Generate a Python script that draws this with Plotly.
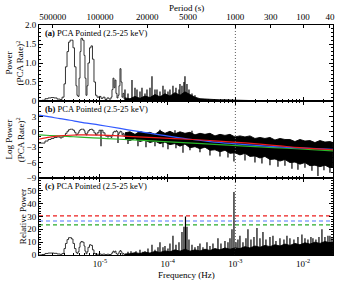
import math
import plotly.graph_objects as go

# ---------------- data ----------------
# low-frequency part, drawn as step curves
low_freq = [1.26e-6, 1.39e-6, 1.54e-6, 1.71e-6, 1.89e-6, 2.09e-6, 2.32e-6, 2.57e-6, 2.75e-6, 2.94e-6,
            3.09e-6, 3.26e-6, 3.43e-6, 3.61e-6, 3.79e-6, 3.99e-6, 4.20e-6, 4.42e-6, 4.57e-6, 4.73e-6,
            4.90e-6, 5.07e-6, 5.24e-6, 5.52e-6, 5.81e-6, 6.00e-6, 6.21e-6, 6.43e-6, 6.65e-6, 7.00e-6,
            7.36e-6, 7.74e-6, 8.15e-6, 8.59e-6, 9.04e-6, 9.66e-6, 1.035e-5, 1.107e-5, 1.186e-5, 1.269e-5,
            1.358e-5, 1.454e-5, 1.504e-5, 1.556e-5, 1.610e-5, 1.666e-5, 1.723e-5, 1.783e-5, 1.845e-5, 1.908e-5,
            1.974e-5, 2.043e-5, 2.113e-5, 2.186e-5, 2.262e-5, 2.340e-5]
power_a_low = [0.0, 0.02, 0.06, 0.08, 0.09, 0.08, 0.05, 0.04, 0.1, 0.45,
               0.9, 1.3, 1.55, 1.6, 1.6, 1.4, 0.9, 0.4, 0.15, 0.12,
               0.6, 1.3, 1.65, 1.6, 1.2, 0.6, 0.15, 0.4, 1.0, 1.4,
               1.45, 1.1, 0.5, 0.15, 0.1, 0.12, 0.07, 0.1, 0.04, 0.08,
               0.05, 0.1, 0.3, 0.6, 0.35, 0.55, 0.2, 0.08, 0.15, 0.4,
               0.85, 0.5, 0.1, 0.2, 0.06, 0.1]
logpow_b_low = [-2.2, -2.2, -1.8, -1.5, -1.3, -1.1, -1.0, -1.2, -1.0, -0.7,
                -0.3, 0.1, 0.4, 0.5, 0.5, 0.3, -0.1, -0.6, -0.5, -0.2,
                0.2, 0.4, 0.5, 0.5, 0.2, -0.3, -0.6, -0.2, 0.2, 0.45,
                0.5, 0.3, -0.2, -0.6, -0.2, 0.3, 0.3, -0.2, -0.8, -1.0,
                -0.8, -1.1, -0.6, -0.1, 0.1, 0.0, 0.2, 0.0, -0.5, -0.2,
                0.1, 0.0, -0.6, -0.3, -0.9, -0.4]
relpow_c_low = [0.0, 0.4, 1.2, 1.5, 1.5, 1.3, 0.8, 0.5, 1.2, 5,
                9, 12, 13.5, 13.5, 12.5, 9, 5, 2, 1.2, 2.5,
                6, 9.5, 10.5, 10, 7, 3, 1, 2.5, 6, 8,
                7.5, 4, 1.2, 0.5, 0.6, 0.8, 0.5, 0.7, 0.3, 0.6,
                0.4, 0.8, 1.8, 3.0, 2.2, 3.0, 1.2, 0.5, 0.9, 2.5,
                3.5, 2.5, 0.6, 1.2, 0.4, 0.8]

# dense high-frequency part: envelope of the noise band
band_freq = [2.340e-5, 2.774e-5, 3.289e-5, 3.898e-5, 4.620e-5, 5.478e-5, 6.493e-5, 7.698e-5, 9.123e-5, 1.081e-4,
             1.282e-4, 1.519e-4, 1.801e-4, 2.135e-4, 2.531e-4, 3.000e-4, 3.556e-4, 4.215e-4, 4.996e-4, 5.923e-4,
             7.022e-4, 8.324e-4, 9.865e-4, 1.169e-3, 1.387e-3, 1.643e-3, 1.948e-3, 2.309e-3, 2.736e-3, 3.244e-3,
             3.845e-3, 4.559e-3, 5.403e-3, 6.405e-3, 7.592e-3, 9.000e-3, 1.067e-2, 1.265e-2, 1.499e-2, 1.777e-2,
             2.106e-2, 2.497e-2, 2.765e-2]
power_a_band = [0.08, 0.06, 0.12, 0.07, 0.13, 0.09, 0.17, 0.11, 0.19, 0.13,
                0.22, 0.15, 0.24, 0.16, 0.10, 0.06, 0.05, 0.04, 0.035, 0.03,
                0.03, 0.025, 0.015, 0.01, 0.005, 0.005, 0.005, 0.005, 0.005, 0.005,
                0.005, 0.005, 0.005, 0.005, 0.005, 0.005, 0.005, 0.005, 0.005, 0.005,
                0.005, 0.005, 0.005]
logpow_b_band_hi = [-0.2, 0.0, -0.5, 0.1, -0.3, -0.1, -0.5, 0.2, -0.3, 0.1,
                    -0.4, 0.0, -0.3, -0.1, -0.6, -0.3, -0.5, -0.3, -0.8, -0.5,
                    -0.7, -0.5, -1.0, -0.8, -1.0, -0.8, -1.3, -1.1, -1.3, -1.1,
                    -1.6, -1.3, -1.5, -1.5, -1.9, -1.5, -1.8, -1.7, -2.1, -1.7,
                    -2.0, -1.9, -2.1]
logpow_b_band_lo = [-1.4, -1.7, -1.3, -1.9, -1.6, -2.1, -1.8, -2.3, -2.0, -2.5,
                    -2.3, -2.8, -2.4, -3.1, -2.9, -3.3, -3.0, -3.6, -3.5, -3.9,
                    -3.6, -4.2, -4.1, -4.5, -4.2, -4.8, -4.7, -5.1, -4.8, -5.4,
                    -5.3, -5.7, -5.4, -6.0, -5.9, -6.3, -6.0, -6.6, -6.5, -6.8,
                    -6.5, -7.0, -6.8]
relpow_c_band = [0.8, 1.0, 1.8, 1.2, 2.2, 1.5, 2.8, 2.0, 3.2, 2.5,
                 4.0, 3.0, 4.5, 3.0, 4.0, 3.2, 4.5, 3.5, 5.0, 4.0,
                 5.5, 4.5, 5.5, 5.0, 6.5, 5.5, 7.0, 6.0, 7.5, 6.5,
                 8.0, 7.0, 8.5, 7.5, 9.0, 8.0, 9.5, 8.5, 10.0, 9.0,
                 10.5, 9.5, 10.0]

# individual spikes sticking out of the band
a_spike_freq = [2.340e-5, 2.592e-5, 2.970e-5, 3.289e-5, 3.520e-5, 3.898e-5, 4.173e-5, 4.620e-5, 4.946e-5, 5.478e-5,
                5.864e-5, 6.493e-5, 6.950e-5, 7.698e-5, 8.523e-5, 9.123e-5, 1.010e-4, 1.081e-4, 1.197e-4, 1.326e-4,
                1.469e-4, 1.519e-4, 1.627e-4, 1.741e-4, 1.801e-4, 1.928e-4, 2.064e-4, 2.286e-4, 2.531e-4]
a_spike_top = [0.3, 0.2, 0.55, 0.35, 0.3, 0.25, 0.35, 0.2, 0.3, 0.35,
               0.65, 0.3, 0.3, 0.25, 0.4, 0.3, 0.25, 0.3, 0.4, 0.35,
               0.3, 0.45, 0.4, 0.5, 0.65, 0.45, 0.3, 0.2, 0.15]

b_spike_freq = [1.035e-5, 1.845e-5, 2.592e-5, 3.641e-5, 4.780e-5, 6.493e-5, 8.523e-5, 1.010e-4, 1.326e-4, 1.683e-4,
                2.135e-4, 3.000e-4, 4.215e-4, 5.923e-4, 7.776e-4, 9.535e-4, 1.387e-3, 1.948e-3, 2.471e-3, 3.244e-3,
                4.259e-3, 5.403e-3, 6.855e-3, 8.407e-3, 1.067e-2, 1.353e-2, 1.660e-2, 2.036e-2, 2.497e-2,
                7.698e-5, 1.282e-4, 2.286e-4]
b_spike_top = [0.3, -0.5, -1.0, -1.0, -1.2, -1.2, -1.5, -1.5, -1.5, -2.0,
               -2.0, -2.5, -2.5, -3.0, -3.0, -3.0, -3.5, -4.0, -4.0, -4.5,
               -4.5, -4.5, -5.0, -5.0, -5.0, -5.5, -5.5, -5.5, -6.0,
               0.4, 0.3, 0.2]
b_spike_bot = [-2.8, -2.2, -2.4, -2.8, -3.0, -2.8, -3.0, -3.4, -3.2, -4.1,
               -3.6, -4.0, -4.6, -4.8, -5.0, -5.8, -5.6, -6.0, -6.2, -6.5,
               -6.8, -6.6, -7.2, -7.4, -7.0, -7.6, -8.6, -7.5, -8.0,
               -0.5, -0.6, -0.8]

c_spike_freq = [2.592e-5, 2.870e-5, 3.073e-5, 3.402e-5, 3.898e-5, 4.318e-5, 4.620e-5, 5.117e-5, 5.864e-5, 6.493e-5,
                7.191e-5, 7.698e-5, 8.523e-5, 9.123e-5, 1.010e-4, 1.081e-4, 1.197e-4, 1.326e-4, 1.469e-4, 1.627e-4,
                1.741e-4, 1.832e-4, 1.928e-4, 2.064e-4, 2.286e-4, 2.531e-4, 2.803e-4, 3.000e-4, 3.322e-4, 3.806e-4,
                4.215e-4, 4.668e-4, 5.534e-4, 6.128e-4, 7.022e-4, 7.776e-4, 8.324e-4, 8.909e-4, 9.535e-4, 1.021e-3,
                1.092e-3, 1.169e-3, 1.295e-3, 1.434e-3, 1.535e-3, 1.700e-3, 1.883e-3, 2.085e-3, 2.309e-3, 2.557e-3,
                2.831e-3, 3.244e-3, 3.593e-3, 3.979e-3, 4.559e-3, 5.223e-3, 5.783e-3, 6.405e-3, 7.338e-3, 8.407e-3,
                9.63e-3, 1.067e-2, 1.181e-2, 1.308e-2, 1.400e-2, 1.550e-2, 1.718e-2, 1.902e-2, 2.106e-2, 2.333e-2,
                2.497e-2, 2.673e-2]
c_spike_top = [2.5, 3, 1.5, 3, 4, 2.5, 3, 5, 8, 4,
               6, 10, 6, 7, 5, 9, 15, 8, 10, 18,
               22, 30, 22, 12, 8, 6, 7, 9, 6, 10,
               7, 9, 13, 9, 11, 10, 13, 20, 49, 10,
               12, 15, 10, 13, 20, 12, 14, 21, 13, 18,
               12, 14, 15, 11, 13, 12, 15, 13, 12, 14,
               16, 13, 12, 14, 13, 12, 14, 20, 14, 15,
               15, 13]

# model curves of panel (b)
model_freq = [1.26e-6, 1.82e-6, 2.57e-6, 3.61e-6, 5.07e-6, 1.0e-5, 1.974e-5, 3.641e-5, 7.698e-5, 1.995e-4,
              4.215e-4, 9.216e-4, 2.309e-3, 4.559e-3, 9.0e-3, 2.765e-2]
model_blue = [3.25, 2.9, 2.55, 2.25, 1.9, 1.3, 0.65, 0.07, -0.6, -1.4,
              -1.9, -2.3, -2.7, -2.95, -3.15, -3.4]
model_red = [-1.45, -1.05, -0.8, -0.67, -0.62, -0.66, -0.8, -0.98, -1.18, -1.45,
             -1.7, -2.0, -2.4, -2.75, -3.1, -3.5]
model_green = [-0.6, -0.72, -0.82, -0.93, -1.03, -1.24, -1.45, -1.64, -1.87, -2.17,
               -2.40, -2.65, -2.93, -3.14, -3.35, -3.70]

# significance levels of panel (c)
sig_levels = [30.5, 26.5, 23.5]
sig_colors = ["rgb(235,30,30)", "rgb(80,120,255)", "rgb(40,170,40)"]

period_ticks = [500000, 100000, 20000, 5000, 1000, 300, 100, 40]
freq_ticks = [1e-5, 1e-4, 1e-3, 1e-2]
freq_ticktext = ["10<sup>-5</sup>", "10<sup>-4</sup>", "10<sup>-3</sup>", "10<sup>-2</sup>"]
marker_freq = 1e-3
f_min, f_max = 1.256e-6, 2.77e-2

# ---------------- figure ----------------
FONT = "Liberation Serif"
BLACK = "black"


def segs(freqs, lo, hi):
    xs, ys = [], []
    for f, l, h in zip(freqs, lo, hi):
        xs += [f, f, None]
        ys += [l, h, None]
    return xs, ys


fig = go.Figure()
line_w = 0.9
spike_w = 1.2

# panel a
fig.add_trace(go.Scatter(x=band_freq, y=power_a_band, mode="lines", fill="tozeroy",
                         fillcolor=BLACK, line=dict(color=BLACK, width=line_w), xaxis="x", yaxis="y"))
sx, sy = segs(a_spike_freq, [0] * len(a_spike_freq), a_spike_top)
fig.add_trace(go.Scatter(x=sx, y=sy, mode="lines", line=dict(color=BLACK, width=spike_w), xaxis="x", yaxis="y"))
fig.add_trace(go.Scatter(x=low_freq, y=power_a_low, mode="lines", line_shape="hv",
                         line=dict(color="rgb(30,30,30)", width=line_w), xaxis="x", yaxis="y"))

# panel b
fig.add_trace(go.Scatter(x=band_freq, y=logpow_b_band_lo, mode="lines",
                         line=dict(color=BLACK, width=line_w), xaxis="x2", yaxis="y2"))
fig.add_trace(go.Scatter(x=band_freq, y=logpow_b_band_hi, mode="lines", fill="tonexty",
                         fillcolor=BLACK, line=dict(color=BLACK, width=line_w), xaxis="x2", yaxis="y2"))
sx, sy = segs(b_spike_freq, b_spike_bot, b_spike_top)
fig.add_trace(go.Scatter(x=sx, y=sy, mode="lines", line=dict(color=BLACK, width=spike_w), xaxis="x2", yaxis="y2"))
fig.add_trace(go.Scatter(x=low_freq, y=logpow_b_low, mode="lines", line_shape="hv",
                         line=dict(color="rgb(30,30,30)", width=line_w), xaxis="x2", yaxis="y2"))
fig.add_trace(go.Scatter(x=model_freq, y=model_green, mode="lines", line_shape="spline",
                         line=dict(color="rgb(40,180,40)", width=1.2), xaxis="x2", yaxis="y2"))
fig.add_trace(go.Scatter(x=model_freq, y=model_blue, mode="lines", line_shape="spline",
                         line=dict(color="rgb(50,90,255)", width=1.2), xaxis="x2", yaxis="y2"))
fig.add_trace(go.Scatter(x=model_freq, y=model_red, mode="lines", line_shape="spline",
                         line=dict(color="rgb(235,25,25)", width=1.2), xaxis="x2", yaxis="y2"))

# panel c
fig.add_trace(go.Scatter(x=band_freq, y=relpow_c_band, mode="lines", fill="tozeroy",
                         fillcolor=BLACK, line=dict(color=BLACK, width=line_w), xaxis="x3", yaxis="y3"))
sx, sy = segs(c_spike_freq, [0] * len(c_spike_freq), c_spike_top)
fig.add_trace(go.Scatter(x=sx, y=sy, mode="lines", line=dict(color=BLACK, width=spike_w), xaxis="x3", yaxis="y3"))
fig.add_trace(go.Scatter(x=low_freq, y=relpow_c_low, mode="lines", line_shape="hv",
                         line=dict(color="rgb(30,30,30)", width=line_w), xaxis="x3", yaxis="y3"))
for lvl, col in zip(sig_levels, sig_colors):
    fig.add_trace(go.Scatter(x=[f_min, f_max], y=[lvl, lvl], mode="lines",
                             line=dict(color=col, width=1.2, dash="4px,3px"), xaxis="x3", yaxis="y3"))

# vertical dotted marker at 1000 s
for xa, ya, yr in [("x", "y", [0, 2]), ("x2", "y2", [-9, 6]), ("x3", "y3", [0, 60])]:
    fig.add_trace(go.Scatter(x=[marker_freq, marker_freq], y=yr, mode="lines",
                             line=dict(color="rgb(90,90,90)", width=1, dash="1px,2px"), xaxis=xa, yaxis=ya))

# dummy trace for the period axis
fig.add_trace(go.Scatter(x=[marker_freq], y=[None], mode="lines", xaxis="x4", yaxis="y"))

xrange = [math.log10(f_min), math.log10(f_max)]
minor_vals = [k * 10 ** e for e in range(-6, -1) for k in range(2, 10)]
tickfont = dict(family=FONT, size=9, color=BLACK)

xcommon = dict(type="log", range=xrange, showline=True, linecolor=BLACK, linewidth=1,
               ticks="inside", ticklen=4, tickcolor=BLACK, tickwidth=1, showgrid=False, zeroline=False,
               tickvals=freq_ticks, ticktext=freq_ticktext, tickfont=tickfont, automargin=False,
               minor=dict(ticks="inside", ticklen=2, tickcolor=BLACK, tickvals=minor_vals))
ycommon = dict(showline=True, linecolor=BLACK, linewidth=1, mirror="ticks", ticks="inside",
               ticklen=4, tickcolor=BLACK, tickwidth=1, showgrid=False, zeroline=False, tickfont=tickfont,
               automargin=False)

dom_c = [0.0, 0.3348]
dom_b = [0.3348, 0.6696]
dom_a = [0.6696, 1.0]

fig.update_layout(
    width=342, height=284,
    margin=dict(l=39, r=9, t=25, b=29, autoexpand=False),
    paper_bgcolor="white", plot_bgcolor="white",
    showlegend=False, hovermode=False,
    font=dict(family=FONT, size=9, color=BLACK),
    xaxis=dict(**xcommon, anchor="y", showticklabels=False),
    xaxis2=dict(**xcommon, anchor="y2", mirror="ticks", showticklabels=False),
    xaxis3=dict(**xcommon, anchor="y3", mirror="ticks", showticklabels=True),
    xaxis4=dict(type="log", range=xrange, overlaying="x", side="top", anchor="y",
                showline=True, linecolor=BLACK, linewidth=1, ticks="inside", ticklen=3,
                tickcolor=BLACK, showgrid=False, zeroline=False, automargin=False,
                tickvals=[1.0 / p for p in period_ticks], ticktext=[str(p) for p in period_ticks],
                tickfont=tickfont),
    yaxis=dict(**ycommon, domain=dom_a, anchor="x", range=[0, 2],
               tickvals=[0, 0.5, 1.0, 1.5, 2.0], ticktext=["0", "0.5", "1.0", "1.5", "2.0"],
               minor=dict(ticks="inside", ticklen=2, tickcolor=BLACK, dtick=0.1)),
    yaxis2=dict(**ycommon, domain=dom_b, anchor="x2", range=[-9, 6],
                tickvals=[-9, -6, -3, 0, 3],
                minor=dict(ticks="inside", ticklen=2, tickcolor=BLACK, dtick=1)),
    yaxis3=dict(**ycommon, domain=dom_c, anchor="x3", range=[0, 60],
                tickvals=[0, 10, 20, 30, 40, 50],
                minor=dict(ticks="inside", ticklen=2, tickcolor=BLACK, dtick=2)),
)

ann_font = dict(family=FONT, size=8.5, color=BLACK)
for lab, top in [("a", dom_a[1]), ("b", dom_b[1]), ("c", dom_c[1])]:
    fig.add_annotation(text=f"<b>({lab})</b> PCA Pointed (2.5-25 keV)", xref="paper", yref="paper",
                       x=0.014, y=top - 0.004, xanchor="left", yanchor="top", showarrow=False, font=ann_font)

title_font = dict(family=FONT, size=9, color=BLACK)
fig.add_annotation(text="Power<br>(PCA Rate)<sup>2</sup>", xref="paper", yref="paper", x=-0.083, y=0.835,
                   textangle=-90, showarrow=False, font=title_font, xanchor="center", yanchor="middle")
fig.add_annotation(text="Log Power<br>(PCA Rate)<sup>2</sup>", xref="paper", yref="paper", x=-0.083, y=0.502,
                   textangle=-90, showarrow=False, font=title_font, xanchor="center", yanchor="middle")
fig.add_annotation(text="Relative Power", xref="paper", yref="paper", x=-0.056, y=0.167,
                   textangle=-90, showarrow=False, font=title_font, xanchor="center", yanchor="middle")
fig.add_annotation(text="Period (s)", xref="paper", yref="paper", x=0.5, y=1.074,
                   showarrow=False, font=title_font, xanchor="center", yanchor="middle")
fig.add_annotation(text="Frequency (Hz)", xref="paper", yref="paper", x=0.5, y=-0.087,
                   showarrow=False, font=title_font, xanchor="center", yanchor="middle")

fig.write_html("out.html", config={"displayModeBar": False},
               post_script="document.body.style.margin='0';document.body.style.padding='0';")
